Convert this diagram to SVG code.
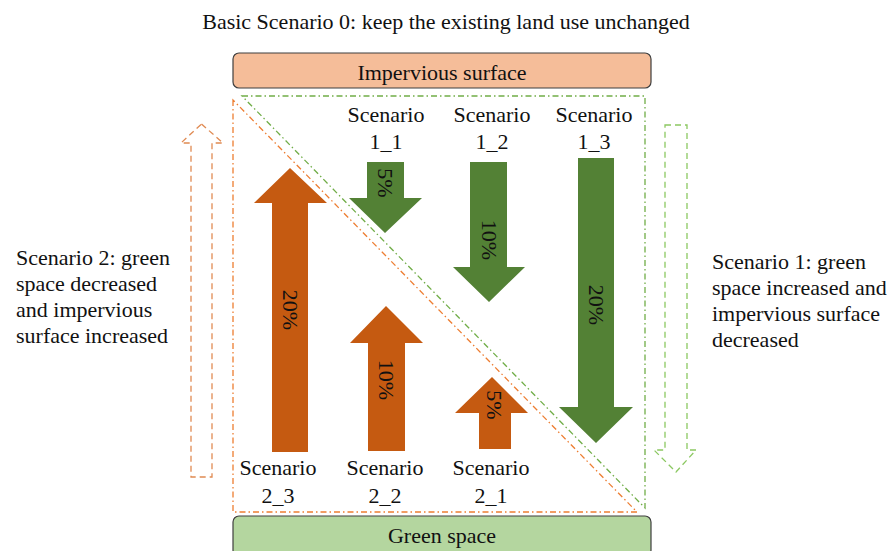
<svg xmlns="http://www.w3.org/2000/svg" width="895" height="551" viewBox="0 0 895 551" font-family="'Liberation Serif', 'Times New Roman', Tinos, serif">
  <style>
    text { font-family: 'Liberation Serif', 'Times New Roman', Tinos, serif; font-size: 22px; fill: #111; }
    .c { text-anchor: middle; }
    .box { stroke: #3f3f3f; stroke-width: 1.2; }
    .gArrow { fill: #538135; }
    .oArrow { fill: #C55A11; }
    .gLine { fill: none; stroke: #70AD47; stroke-width: 1.3; stroke-dasharray: 6 3 1.5 3; }
    .oLine { fill: none; stroke: #ED7D31; stroke-width: 1.3; stroke-dasharray: 6 3 1.5 3; }
  </style>

  <!-- title -->
  <text class="c" x="446" y="29">Basic Scenario 0: keep the existing land use unchanged</text>

  <!-- land use boxes -->
  <g id="impervious">
    <rect class="box" x="233" y="53" width="418" height="35" rx="6" fill="#F5BD99"/>
    <text class="c" x="442" y="80">Impervious surface</text>
  </g>
  <g id="green-space">
    <rect class="box" x="233" y="516" width="418" height="40" rx="6" fill="#B4D69F"/>
    <text class="c" x="442" y="543">Green space</text>
  </g>

  <!-- scenario regions (dash-dot triangles) -->
  <g id="connectors">
    <path class="gLine" d="M242,96 H645 V508 Z"/>
    <path class="oLine" d="M233,100 V512 H637 Z"/>
  </g>

  <!-- scenario 1 (green increases) -->
  <g id="s1_1">
    <text class="c" x="386" y="122">Scenario</text>
    <text class="c" x="386" y="149">1_1</text>
    <polygon class="gArrow" points="367,162 404,162 404,198 422,198 385,233 349,198 367,198"/>
    <text class="c" transform="translate(385,183) rotate(90)" y="7">5%</text>
  </g>
  <g id="s1_2">
    <text class="c" x="492" y="122">Scenario</text>
    <text class="c" x="492" y="149">1_2</text>
    <polygon class="gArrow" points="470,162 507,162 507,267 525,267 489,302 453,267 470,267"/>
    <text class="c" transform="translate(489,240) rotate(90)" y="7">10%</text>
  </g>
  <g id="s1_3">
    <text class="c" x="594" y="122">Scenario</text>
    <text class="c" x="594" y="149">1_3</text>
    <polygon class="gArrow" points="578,158 614,158 614,407 633,407 596,443 559,407 578,407"/>
    <text class="c" transform="translate(596,305) rotate(90)" y="7">20%</text>
  </g>

  <!-- scenario 2 (green decreases) -->
  <g id="s2_3">
    <polygon class="oArrow" points="290,168 327,203 308,203 308,452 272,452 272,203 254,203"/>
    <text class="c" transform="translate(290,310) rotate(90)" y="7">20%</text>
    <text class="c" x="278" y="475">Scenario</text>
    <text class="c" x="278" y="503">2_3</text>
  </g>
  <g id="s2_2">
    <polygon class="oArrow" points="386,306 423,343 405,343 405,451 368,451 368,343 350,343"/>
    <text class="c" transform="translate(386,380) rotate(90)" y="7">10%</text>
    <text class="c" x="385" y="475">Scenario</text>
    <text class="c" x="385" y="503">2_2</text>
  </g>
  <g id="s2_1">
    <polygon class="oArrow" points="492,377 528,413 511,413 511,449 479,449 479,413 455,413"/>
    <text class="c" transform="translate(494,405) rotate(90)" y="7">5%</text>
    <text class="c" x="491" y="475">Scenario</text>
    <text class="c" x="491" y="503">2_1</text>
  </g>

  <!-- trend arrows -->
  <g id="trend-2">
    <polygon points="201.5,124 223,143 212,143 212,477 191,477 191,143 181,143" fill="none" stroke="#E08A52" stroke-width="1.3" stroke-dasharray="6 4"/>
    <text x="16" y="265">Scenario 2: green</text>
    <text x="16" y="291">space decreased</text>
    <text x="16" y="317">and impervious</text>
    <text x="16" y="343">surface increased</text>
  </g>
  <g id="trend-1">
    <polygon points="665,125 687,125 687,450 696,450 676,472 654,450 665,450" fill="none" stroke="#8CC862" stroke-width="1.3" stroke-dasharray="6 4"/>
    <text x="712" y="269">Scenario 1: green</text>
    <text x="712" y="295">space increased and</text>
    <text x="712" y="321">impervious surface</text>
    <text x="712" y="347">decreased</text>
  </g>
</svg>
